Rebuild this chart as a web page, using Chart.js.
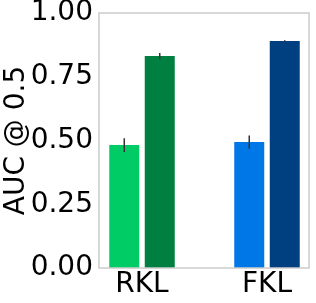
<!DOCTYPE html>
<html>
<head>
<meta charset="utf-8">
<script src="https://cdn.jsdelivr.net/npm/chart.js@4"></script>
<style>
  html, body { margin: 0; padding: 0; background: #fff; }
  #wrap { width: 316px; height: 303px; }
</style>
</head>
<body>
<div id="wrap"><canvas id="chart" width="316" height="303"></canvas></div>
<script>
// valores
const categories = ["RKL", "FKL"];
const leftValues = [0.482, 0.494];
const leftErrors = [0.027, 0.026];
const rightValues = [0.831, 0.890];
const rightErrors = [0.012, 0.003];
const leftColors = ["#00cc66", "#0077e6"];
const rightColors = ["#008040", "#004080"];
const yTicks = [0, 0.25, 0.5, 0.75, 1];

const FONT = "'DejaVu Sans', sans-serif";

// dibuja las barras de error con las escalas del grafico
const errorBars = {
  id: "errorBars",
  afterDatasetsDraw(chart) {
    const ctx = chart.ctx;
    const y = chart.scales.y;
    ctx.save();
    ctx.strokeStyle = "#333333";
    ctx.lineWidth = 1.5;
    chart.data.datasets.forEach((ds, i) => {
      const meta = chart.getDatasetMeta(i);
      meta.data.forEach((bar, j) => {
        const v = ds.data[j].y;
        const e = ds.errors[j];
        ctx.beginPath();
        ctx.moveTo(bar.x, y.getPixelForValue(v + e));
        ctx.lineTo(bar.x, y.getPixelForValue(v - e));
        ctx.stroke();
      });
    });
    ctx.restore();
  },
};

// marco gris alrededor del area del grafico
const frame = {
  id: "frame",
  afterDraw(chart) {
    const { left, right, top, bottom } = chart.chartArea;
    const ctx = chart.ctx;
    ctx.save();
    ctx.strokeStyle = "#cccccc";
    ctx.lineWidth = 1.5;
    ctx.strokeRect(left, top, right - left, bottom - top);
    ctx.restore();
  },
};

new Chart(document.getElementById("chart"), {
  type: "bar",
  data: {
    datasets: [
      {
        data: leftValues.map((v, i) => ({ x: i, y: v })),
        errors: leftErrors,
        backgroundColor: leftColors,
        categoryPercentage: 0.568,
        barPercentage: 0.845,
      },
      {
        data: rightValues.map((v, i) => ({ x: i, y: v })),
        errors: rightErrors,
        backgroundColor: rightColors,
        categoryPercentage: 0.568,
        barPercentage: 0.845,
      },
    ],
  },
  options: {
    responsive: false,
    animation: false,
    layout: { padding: { top: 0, right: 7, left: 0, bottom: 0 } },
    plugins: { legend: { display: false }, tooltip: { enabled: false } },
    scales: {
      x: {
        type: "linear",
        min: -0.344,
        max: 1.336,
        offset: false,
        grid: { display: false, drawTicks: false },
        border: { display: false },
        afterBuildTicks: (axis) => {
          axis.ticks = categories.map((c, i) => ({ value: i }));
        },
        afterFit: (axis) => { axis.height = 35; },
        ticks: {
          color: "#000",
          font: { family: FONT, size: 28 },
          padding: 0,
          maxRotation: 0,
          autoSkip: false,
          callback: (v) => categories[v],
        },
      },
      y: {
        min: 0,
        max: 1,
        grid: { display: false, drawTicks: false },
        border: { display: false },
        afterBuildTicks: (axis) => {
          axis.ticks = yTicks.map((v) => ({ value: v }));
        },
        afterFit: (axis) => { axis.width = 99; },
        afterSetDimensions: (axis) => {
          axis.paddingTop = 13;
        },
        title: {
          display: true,
          text: "AUC @ 0.5",
          color: "#000",
          font: { family: FONT, size: 28 },
          padding: 0,
        },
        ticks: {
          color: "#000",
          font: { family: FONT, size: 28, lineHeight: 0.5 },
          padding: 6,
          callback: (v) => v.toFixed(2),
        },
      },
    },
  },
  plugins: [errorBars, frame],
});
</script>
</body>
</html>
